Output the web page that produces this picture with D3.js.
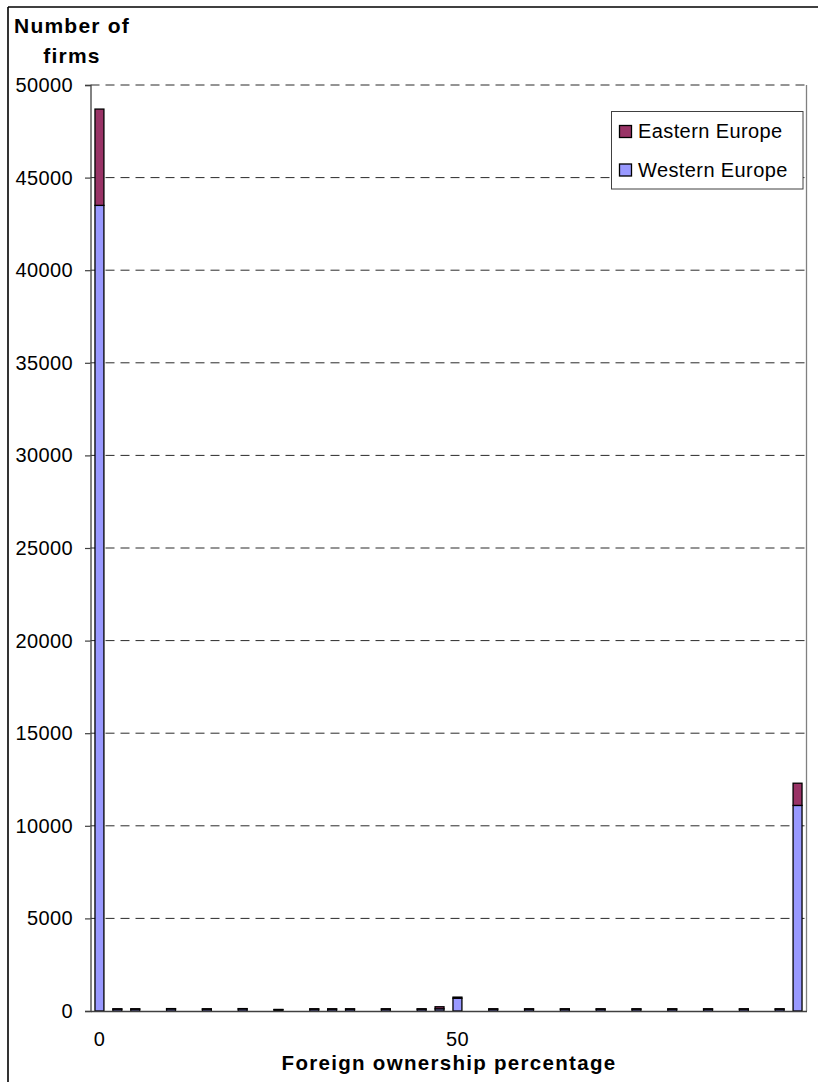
<!DOCTYPE html>
<html>
<head>
<meta charset="utf-8">
<script src="https://cdn.jsdelivr.net/npm/d3@7"></script>
<style>
  html, body { margin: 0; padding: 0; background: #fff; }
  svg { display: block; font-family: "Liberation Sans", Arial, sans-serif; }
</style>
</head>
<body>
<svg id="chart" width="818" height="1082"></svg>
<script>
// Foreign ownership share (percent), one slot per category
const categories = ["0","2.5","5","7.5","10","12.5","15","17.5","20","22.5",
  "25","27.5","30","32.5","35","37.5","40","42.5","45","47.5",
  "50","52.5","55","57.5","60","62.5","65","67.5","70","72.5",
  "75","77.5","80","82.5","85","87.5","90","92.5","95","100"];

// Number of firms per category
const westernEurope = [43500,100,100,0,110,0,100,0,110,0,
  70,0,100,100,100,0,100,0,100,120,
  690,0,100,0,100,0,100,0,100,0,
  100,0,100,0,100,0,100,0,100,11100];
const easternEurope = [5200,20,20,0,20,0,20,0,20,0,
  15,0,20,20,20,0,20,0,20,110,
  60,0,20,0,20,0,20,0,20,0,
  20,0,20,0,20,0,20,0,20,1200];

const xTickLabels = ["0", "50"];
const yTicks = [0,5000,10000,15000,20000,25000,30000,35000,40000,45000,50000];
const seriesNames = ["Western Europe", "Eastern Europe"];
const legendOrder = ["Eastern Europe", "Western Europe"];
const colors = { "Western Europe": "#9999ff", "Eastern Europe": "#993366" };

const svg = d3.select("#chart");
const plot = { left: 90.5, right: 806.5, top: 85, bottom: 1011 };

const x = d3.scaleBand().domain(categories).range([plot.left, plot.right]).paddingInner(0.5).paddingOuter(0.25);
const y = d3.scaleLinear().domain([0, 50000]).range([plot.bottom, plot.top]);

// Outer chart frame (left and top edges)
svg.append("line").attr("x1", 8).attr("x2", 8).attr("y1", 7).attr("y2", 1082)
  .attr("stroke", "#000").attr("stroke-width", 1.6);
svg.append("line").attr("x1", 8).attr("x2", 818).attr("y1", 7).attr("y2", 7)
  .attr("stroke", "#000").attr("stroke-width", 1.6);

// Dashed horizontal gridlines
svg.append("g").selectAll("line").data(yTicks.filter(d => d > 0)).join("line")
  .attr("x1", plot.left).attr("x2", plot.right)
  .attr("y1", d => y(d)).attr("y2", d => y(d))
  .attr("stroke", "#2a2a2a").attr("stroke-width", 1)
  .attr("stroke-dasharray", "9,6");

// Plot area right border
svg.append("line").attr("x1", plot.right).attr("x2", plot.right)
  .attr("y1", plot.top).attr("y2", plot.bottom)
  .attr("stroke", "#808080").attr("stroke-width", 1.3);

// Stacked bars
const rows = categories.map((c, i) => ({ cat: c, "Western Europe": westernEurope[i], "Eastern Europe": easternEurope[i] }));
const stacked = d3.stack().keys(seriesNames)(rows);
svg.append("g").selectAll("g").data(stacked).join("g")
  .attr("fill", d => colors[d.key])
  .selectAll("rect").data(d => d.filter(p => p[1] - p[0] > 0)).join("rect")
  .attr("x", d => x(d.data.cat))
  .attr("width", x.bandwidth())
  .attr("y", d => y(d[1]))
  .attr("height", d => y(d[0]) - y(d[1]))
  .attr("stroke", "#000").attr("stroke-width", 1.3);

// Y axis
const yAxis = svg.append("g").attr("transform", `translate(${plot.left},0)`)
  .call(d3.axisLeft(y).tickValues(yTicks).tickSize(5.5).tickPadding(12).tickFormat(d3.format("d")));
yAxis.select(".domain").attr("stroke", "#404040").attr("stroke-width", 1.3);
yAxis.selectAll(".tick line").attr("stroke", "#404040").attr("stroke-width", 1.2);
yAxis.selectAll(".tick text").attr("fill", "#000")
  .style("font-size", "20px").style("letter-spacing", "0.4px")
  .style("font-family", "'Liberation Sans', Arial, sans-serif");

// X axis
const xAxis = svg.append("g").attr("transform", `translate(0,${plot.bottom})`)
  .call(d3.axisBottom(x).tickValues(xTickLabels).tickSize(0).tickPadding(21));
xAxis.select(".domain").attr("stroke", "#404040").attr("stroke-width", 1.3);
xAxis.selectAll(".tick text").attr("fill", "#000")
  .style("font-size", "20px").style("letter-spacing", "0.4px")
  .style("font-family", "'Liberation Sans', Arial, sans-serif");

// Axis titles
const title = svg.append("text").attr("text-anchor", "middle")
  .style("font-size", "21px").style("font-weight", "bold").style("letter-spacing", "1.2px");
title.append("tspan").attr("x", 72).attr("y", 33).text("Number of");
title.append("tspan").attr("x", 72).attr("y", 63).text("firms");

svg.append("text").attr("x", 449).attr("y", 1070).attr("text-anchor", "middle")
  .style("font-size", "20.5px").style("font-weight", "bold").style("letter-spacing", "1.3px")
  .text("Foreign ownership percentage");

// Legend
const legend = svg.append("g");
legend.append("rect").attr("x", 611.5).attr("y", 111.5).attr("width", 191.5).attr("height", 77.5)
  .attr("fill", "#fff").attr("stroke", "#404040").attr("stroke-width", 1);
const items = legend.selectAll("g.item").data(legendOrder).join("g").attr("class", "item")
  .attr("transform", (d, i) => `translate(0,${i * 38.5})`);
items.append("rect").attr("x", 619.5).attr("y", 125.5).attr("width", 12).attr("height", 12)
  .attr("fill", d => colors[d]).attr("stroke", "#000").attr("stroke-width", 1.3);
items.append("text").attr("x", 638).attr("y", 138)
  .style("font-size", "20px").style("letter-spacing", "0.4px")
  .text(d => d);
</script>
</body>
</html>
